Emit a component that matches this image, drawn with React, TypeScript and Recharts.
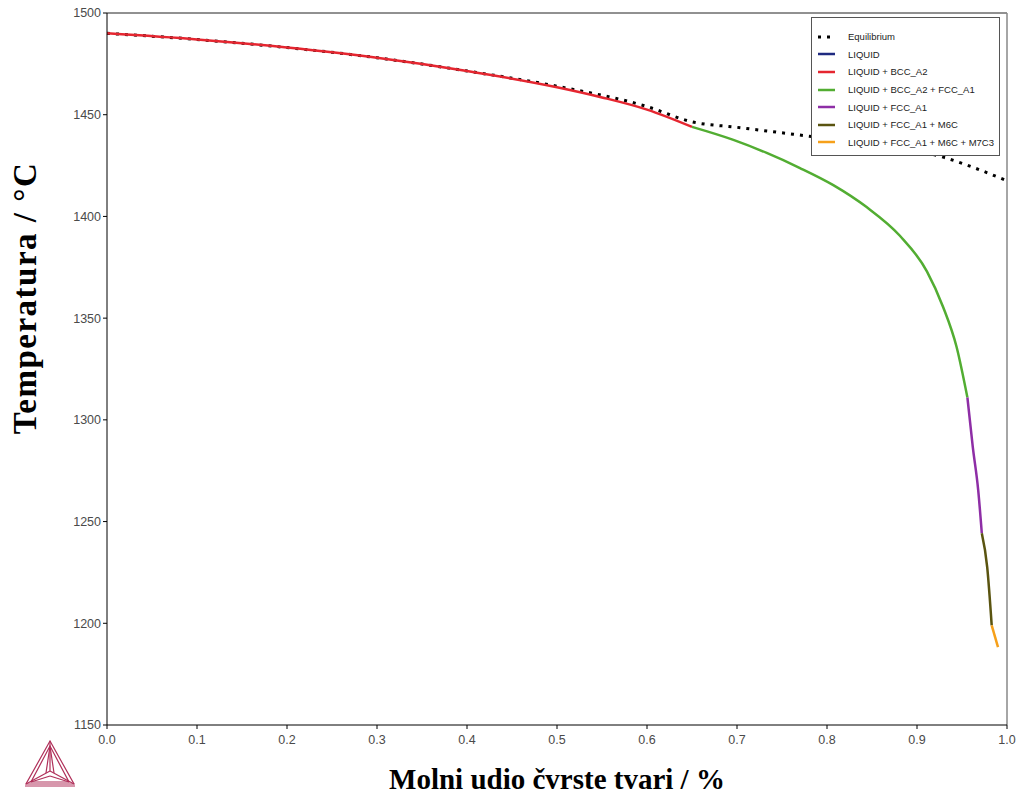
import { LineChart, Line, XAxis, YAxis, ReferenceLine, Label } from "recharts";

type Pt = { x: number; t: number };

// Equilibrium solidification (dotted)
const equilibrium: Pt[] = [
  { x: 0.0, t: 1490 },
  { x: 0.1, t: 1487 },
  { x: 0.2, t: 1483 },
  { x: 0.3, t: 1478 },
  { x: 0.4, t: 1471.5 },
  { x: 0.5, t: 1464 },
  { x: 0.6, t: 1454 },
  { x: 0.65, t: 1446.5 },
  { x: 0.7, t: 1443.8 },
  { x: 0.77, t: 1440 },
  { x: 0.85, t: 1435.5 },
  { x: 0.93, t: 1429 },
  { x: 0.96, t: 1424.5 },
  { x: 1.0, t: 1417.5 },
];

const liquid: Pt[] = [];

const liquidBcc: Pt[] = [
  { x: 0.0, t: 1490 },
  { x: 0.1, t: 1487 },
  { x: 0.2, t: 1483 },
  { x: 0.3, t: 1478 },
  { x: 0.4, t: 1471.5 },
  { x: 0.5, t: 1463.5 },
  { x: 0.55, t: 1458.5 },
  { x: 0.6, t: 1452.5 },
  { x: 0.65, t: 1444 },
];

const liquidBccFcc: Pt[] = [
  { x: 0.65, t: 1444 },
  { x: 0.696, t: 1437.6 },
  { x: 0.733, t: 1431.2 },
  { x: 0.77, t: 1423.8 },
  { x: 0.807, t: 1415.4 },
  { x: 0.844, t: 1404.6 },
  { x: 0.881, t: 1390.5 },
  { x: 0.911, t: 1373 },
  { x: 0.929, t: 1355.5 },
  { x: 0.944, t: 1335.8 },
  { x: 0.956, t: 1311 },
];

const liquidFcc: Pt[] = [
  { x: 0.956, t: 1311 },
  { x: 0.962, t: 1286.6 },
  { x: 0.968, t: 1265.5 },
  { x: 0.972, t: 1244.3 },
];

const liquidFccM6c: Pt[] = [
  { x: 0.972, t: 1244.3 },
  { x: 0.978, t: 1227.6 },
  { x: 0.983, t: 1199 },
];

const liquidFccM6cM7c3: Pt[] = [
  { x: 0.983, t: 1199 },
  { x: 0.99, t: 1188.3 },
];

const xTicks = [0, 0.1, 0.2, 0.3, 0.4, 0.5, 0.6, 0.7, 0.8, 0.9, 1.0];
const yTicks = [1150, 1200, 1250, 1300, 1350, 1400, 1450, 1500];

const legendItems = [
  { name: "Equilibrium", color: "#000", dotted: true },
  { name: "LIQUID", color: "#1f2a80" },
  { name: "LIQUID + BCC_A2", color: "#e52630" },
  { name: "LIQUID + BCC_A2 + FCC_A1", color: "#52ad32" },
  { name: "LIQUID + FCC_A1", color: "#8e2ea6" },
  { name: "LIQUID + FCC_A1 + M6C", color: "#5a5410" },
  { name: "LIQUID + FCC_A1 + M6C + M7C3", color: "#f6a01a" },
];

const series: { data: Pt[]; color: string }[] = [
  { data: liquid, color: legendItems[1].color },
  { data: liquidBcc, color: legendItems[2].color },
  { data: liquidBccFcc, color: legendItems[3].color },
  { data: liquidFcc, color: legendItems[4].color },
  { data: liquidFccM6c, color: legendItems[5].color },
  { data: liquidFccM6cM7c3, color: legendItems[6].color },
];

const tickStyle = { fontFamily: "Liberation Sans, Arial, sans-serif", fontSize: 12.5, fill: "#4a4a4a" };
const titleFont = "Liberation Serif, Times New Roman, serif";

function LegendBox() {
  return (
    <div
      style={{
        position: "absolute",
        left: 811,
        top: 17,
        width: 189,
        height: 139,
        background: "#fff",
        border: "1px solid #555",
        boxSizing: "border-box",
        padding: "10px 0 0 6px",
        fontFamily: "Liberation Sans, Arial, sans-serif",
        fontSize: 9.5,
        color: "#222",
        whiteSpace: "nowrap",
      }}
    >
      {legendItems.map((it) => (
        <div key={it.name} style={{ display: "flex", alignItems: "center", height: 17.6 }}>
          <svg width={18} height={6} style={{ marginRight: 12, flex: "none" }}>
            <line
              x1={0}
              y1={3}
              x2={17}
              y2={3}
              stroke={it.color}
              strokeWidth={it.dotted ? 3 : 2.5}
              strokeDasharray={it.dotted ? "3 6" : undefined}
            />
          </svg>
          <span>{it.name}</span>
        </div>
      ))}
    </div>
  );
}

function Logo() {
  return (
    <svg
      width={60}
      height={52}
      style={{ position: "absolute", left: 22, top: 738 }}
      viewBox="0 0 60 52"
    >
      <g fill="none" stroke="#b0305a" strokeWidth={1.2}>
        <polygon points="28,3 4,46 52,46" />
        <polygon points="28,8 9,44 47,44" />
        <line x1={28} y1={3} x2={28} y2={33} />
        <line x1={4} y1={46} x2={28} y2={33} />
        <line x1={52} y1={46} x2={28} y2={33} />
        <line x1={28} y1={8} x2={24} y2={35} />
        <line x1={28} y1={8} x2={32} y2={35} />
        <line x1={9} y1={44} x2={28} y2={38} />
        <line x1={47} y1={44} x2={28} y2={38} />
      </g>
      <line x1={3} y1={48} x2={53} y2={48} stroke="#b0305a" strokeWidth={1} />
    </svg>
  );
}

export default function App() {
  return (
    <div style={{ position: "absolute", left: 0, top: 0, width: 1018, height: 797, background: "#fff" }}>
      <LineChart width={1018} height={797} margin={{ top: 13, right: 11, left: 0, bottom: 0 }}>
        <XAxis
          type="number"
          dataKey="x"
          domain={[0, 1]}
          ticks={xTicks}
          tickFormatter={(v: number) => v.toFixed(1)}
          allowDuplicatedCategory={false}
          height={72}
          tick={tickStyle}
          tickSize={4}
          tickMargin={6}
          stroke="#000"
        >
          <Label
            content={() => (
              <text
                x={557}
                y={789}
                textAnchor="middle"
                fontFamily={titleFont}
                fontWeight="bold"
                fontSize={29}
                fill="#000"
              >
                Molni udio čvrste tvari / %
              </text>
            )}
          />
        </XAxis>
        <YAxis
          type="number"
          dataKey="t"
          domain={[1150, 1500]}
          ticks={yTicks}
          width={107}
          tick={tickStyle}
          tickSize={4}
          tickMargin={2}
          stroke="#000"
        >
          <Label
            content={() => (
              <text
                x={36}
                y={298}
                transform="rotate(-90 36 298)"
                textAnchor="middle"
                fontFamily={titleFont}
                fontWeight="bold"
                fontSize={33}
                letterSpacing={1.5}
                fill="#000"
              >
                Temperatura / °C
              </text>
            )}
          />
        </YAxis>
        <ReferenceLine y={1500} stroke="#222" strokeWidth={1} />
        <ReferenceLine x={1} stroke="#888" strokeWidth={1.5} />
        <Line
          data={equilibrium}
          dataKey="t"
          type="monotone"
          stroke="#000"
          strokeWidth={3}
          strokeDasharray="3 6"
          dot={false}
          isAnimationActive={false}
        />
        {series.map((s, i) => (
          <Line
            key={i}
            data={s.data}
            dataKey="t"
            type="monotone"
            stroke={s.color}
            strokeWidth={2.5}
            dot={false}
            isAnimationActive={false}
          />
        ))}
      </LineChart>
      <LegendBox />
      <Logo />
    </div>
  );
}
